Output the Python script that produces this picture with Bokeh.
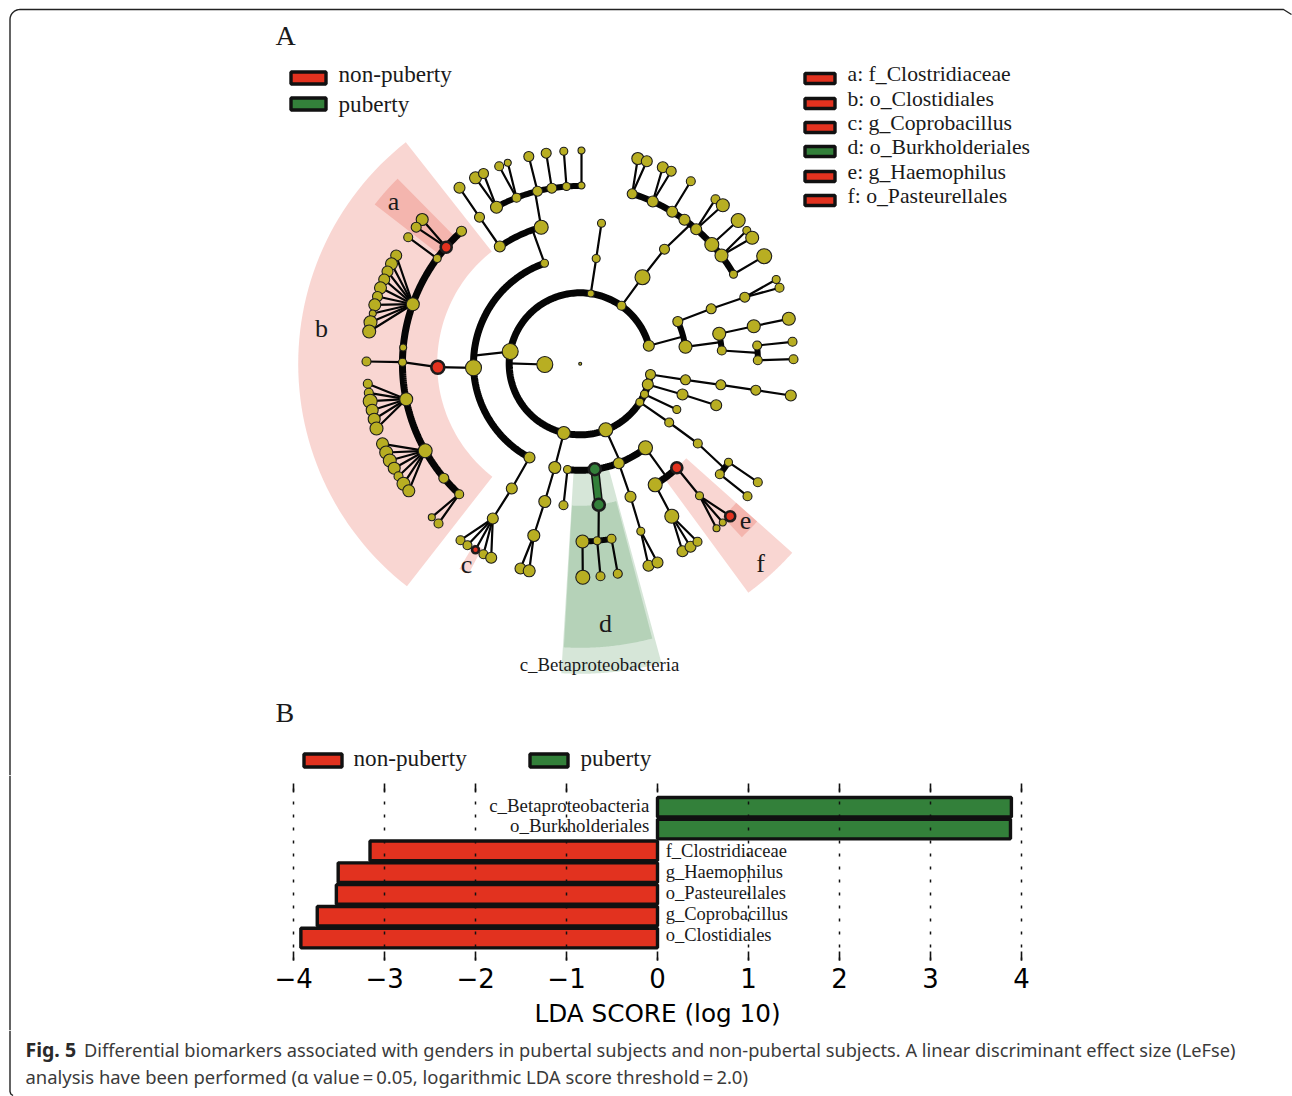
import math
from bokeh.core.properties import value
from bokeh.embed import file_html
from bokeh.layouts import column, row
from bokeh.models import ColumnDataSource, FixedTicker, LinearAxis, Range1d
from bokeh.plotting import figure
from bokeh.resources import INLINE

RED = "#E2321F"
GREEN = "#33803A"
OLIVE = "#B8AE22"
SERIF = "Liberation Serif"
INK = "#1a1a1a"

# ---- Panel B data ----
taxa = ["o_Clostidiales", "g_Coprobacillus", "o_Pasteurellales", "g_Haemophilus",
        "f_Clostridiaceae", "o_Burkholderiales", "c_Betaproteobacteria"]
lda_score = [-3.92, -3.74, -3.53, -3.51, -3.16, 3.88, 3.89]
lda_ticks = [-4, -3, -2, -1, 0, 1, 2, 3, 4]
label_rows = [0.14, 1.1, 2.07, 3.03, 3.99, 5.16, 6.08]

# ---- Panel A data: cladogram nodes ----
node_x = [579.7, 544.3, 509.7, 590.3, 621, 648.3, 650, 647.3, 644, 639.3, 605.3, 563.3,
          544, 473, 529, 499.3, 540.7, 437.3, 479, 496, 516, 537, 551.3, 566, 581,
          459, 475, 483, 498.7, 507.3, 528.3, 545.7, 563.3, 581,
          461, 445.7, 436.7, 412.3, 402.7, 402, 405.7, 424.7, 443.3, 458.7,
          421.7, 415.7, 407.7, 366,
          395.7, 391, 387, 383.7, 380, 377, 374.3, 372.3, 370, 368.7,
          367.3, 368.3, 369.7, 371.7, 373.7, 376,
          382, 385.7, 389.3, 393.7, 398, 403, 408.3, 431.3, 438,
          511.3, 492.3, 460, 467, 475, 483, 490.7, 554.3, 544.3, 533.3, 520, 528.7,
          595.7, 601, 642, 664, 631.7, 652.3, 671.7, 684, 695.7, 711.3, 721, 733,
          637.3, 646.3, 662.3, 670.7, 690.3, 715, 722.3, 737.7, 746.3, 751.7, 763.7,
          677.3, 685, 710.7, 744.3, 775.7, 779, 718.7, 721.3, 753.3, 788.3, 756.7, 757.3, 792, 793,
          685, 720.3, 755.3, 790.3, 682, 715.7, 676.3, 668.7, 697.3, 728, 719.3, 757.3, 747,
          567, 594.3, 618.3, 645, 563, 598.3, 582, 596.7, 611, 582.3, 600, 617.3,
          630, 640.3, 648, 657, 676.3, 654.7, 671.3, 682, 690, 697, 699, 716, 722.3, 729.7]
node_y = [363.3, 364, 351, 293, 305.3, 345.3, 374, 384, 393.7, 401.7, 429.3, 432.5,
          262.7, 367.3, 457, 246, 226.7, 366.7, 216.7, 206.7, 197.3, 190.7, 187.7, 186, 185,
          187.3, 177.3, 173, 165.7, 162.3, 156, 152.7, 150.7, 150,
          230.7, 246.7, 258, 303.7, 347, 361.7, 398.7, 450.3, 477.7, 493.7,
          219, 226.7, 236.7, 361,
          255, 263.3, 271, 279, 287.3, 296, 304.3, 313, 321.7, 331,
          383.3, 392.3, 400.7, 409.7, 418.7, 428,
          443.3, 452, 460, 467.7, 475.7, 483.3, 490.3, 516.7, 523,
          488, 518, 539.7, 544.7, 549.3, 553.7, 557.3, 467, 501, 535, 568, 570.3,
          258, 222.7, 276.7, 248.7, 193.3, 201, 211.3, 219.3, 228.7, 244, 255, 273.7,
          158, 160.7, 166.7, 170.7, 180.7, 198.7, 204.7, 220, 230, 237.3, 255.7,
          321, 346.3, 308.3, 296.7, 279, 287.3, 333.3, 350, 325.7, 318.3, 345, 359.7, 341.3, 358.7,
          379.3, 384.3, 389.7, 395, 394, 404.7, 409, 422, 443, 461.7, 473.7, 481.7, 495.7,
          469, 468.7, 462.7, 447.3, 504.7, 504.3, 541, 540.3, 538.3, 576.7, 575.7, 573.3,
          496.3, 530.7, 565.3, 562, 467.3, 484.3, 515.7, 550.7, 546.3, 541.3, 495.3, 527.7, 522, 515.7]
node_size = [1.5, 8, 8, 3.5, 4.5, 5.5, 5, 5.5, 4, 4, 7, 6.5,
             4, 8, 5.5, 5.5, 7, 6.5, 5, 6, 4.5, 5, 5, 4, 3.5,
             5.5, 6, 5, 4.5, 3.5, 5, 5, 4, 3.5,
             5, 5.5, 4, 6.5, 3.5, 4, 6.5, 7, 5, 4.5,
             6, 5, 4.5, 4.5,
             5.5, 6, 5.5, 5.5, 6, 5, 6, 3.5, 6.5, 6.5,
             4.5, 4.5, 7, 6, 6, 6.5,
             6, 6.5, 6.5, 6, 4.5, 6.5, 6, 3.5, 4.5,
             5.5, 5.5, 4.5, 4.5, 3.5, 4.5, 5.5, 6, 6, 6, 5.5, 6,
             4, 4, 7.5, 5, 5, 5.5, 5.5, 5.5, 5.5, 7, 6.5, 4,
             6, 5.5, 5.5, 5, 4.5, 4.5, 6.5, 7, 4, 6.5, 7.5,
             5, 6.5, 5, 5, 4, 4.5, 6.5, 4.5, 6.5, 6.5, 4.5, 4.5, 4.5, 4.5,
             5, 5, 5, 5.5, 5.5, 5.5, 4, 4.5, 4.5, 4, 4.5, 4.5, 4.5,
             4, 6, 5.5, 7, 4.5, 6, 6.5, 4, 4.5, 7, 4.5, 4.5,
             5.5, 4, 5.5, 5.5, 5.5, 7, 7, 5.5, 5.5, 4.5, 4, 3.5, 3.5, 5]
red_nodes = [17, 35, 77, 151, 160]
green_nodes = [136, 140]

# direct branches (parent, child)
branch_from = [19, 19, 20, 20, 21, 22, 23, 24, 15, 18, 35, 35, 36,
               37, 37, 37, 37, 37, 37, 37, 37, 37, 37, 39,
               40, 40, 40, 40, 40, 40, 41, 41, 41, 41, 41, 41, 41, 43, 43,
               14, 73, 74, 74, 74, 74, 74, 11, 80, 81, 82, 82,
               3, 85, 4, 87, 89, 89, 90, 90, 91, 93, 93, 94, 95, 95, 96,
               108, 110, 111, 111, 114, 116, 118, 119,
               6, 122, 123, 124, 7, 126, 8, 9, 129, 131, 132, 135,
               141, 142, 143, 137, 147, 148, 148, 152, 153, 153, 153,
               151, 157, 157, 157, 13]
branch_to = [26, 27, 28, 29, 30, 31, 32, 33, 18, 25, 44, 45, 46,
             48, 49, 50, 51, 52, 53, 54, 55, 56, 57, 47,
             58, 59, 60, 61, 62, 63, 64, 65, 66, 67, 68, 69, 70, 71, 72,
             73, 74, 75, 76, 77, 78, 79, 80, 81, 82, 83, 84,
             85, 86, 87, 88, 97, 98, 99, 100, 101, 102, 103, 104, 105, 106, 107,
             110, 111, 112, 113, 116, 117, 120, 121,
             122, 123, 124, 125, 126, 127, 128, 129, 130, 133, 134, 139,
             144, 145, 146, 147, 148, 149, 150, 153, 154, 155, 156,
             157, 158, 159, 160, 17]

# sibling arcs: parent, members in ring order, where the stem joins, thickness
arc_parent = [1, 2, 12, 16, 17, 88, 5, 109, 115, 130, 10, 140, 138]
arc_members = [[5, 4, 3, 2, 11, 10, 9, 8, 7, 6], [12, 13, 14], [15, 16],
               [19, 20, 21, 22, 23, 24], [34, 35, 36, 37, 38, 39, 40, 41, 42, 43],
               [89, 90, 91, 92, 93, 94, 95, 96], [108, 109], [114, 115], [118, 119],
               [131, 132], [135, 136, 137, 138], [141, 142, 143], [151, 152]]
arc_stem = [0.49, 0.5, 0.8, 0.47, 0.5, 0.5, 0.6, 0.5, 0.5, 0.5, 0.65, 0.55, 0.5]
arc_width = [7, 7, 6.5, 6, 7, 6.5, 6, 6, 6, 6, 7, 6, 7]

# highlighted clades: inner radius, outer radius, start and end angle (deg)
clade_r0 = [143, 177, 209, 106, 142, 209, 142]
clade_r1 = [282, 260, 238, 310, 284, 237, 284]
clade_a0 = [128.2, 134.6, 239.5, 266.5, 266.7, 313, 306.3]
clade_a1 = [232.1, 142.2, 242, 285.2, 284.7, 318.3, 318.3]
clade_group = [RED, RED, RED, GREEN, GREEN, RED, RED]

clade_letters = ["a", "b", "c", "d", "e", "f"]
clade_names = ["f_Clostridiaceae", "o_Clostidiales", "g_Coprobacillus",
               "o_Burkholderiales", "g_Haemophilus", "o_Pasteurellales"]
clade_colors = [RED, RED, RED, GREEN, RED, RED]
group_names = ["non-puberty", "puberty"]
group_colors = [RED, GREEN]

CX, CY = node_x[0], node_y[0]
W, H = 1292, 1096
TOP_H, BAR_H, CAP_H = 775, 255, 66
STRIP_W = 20
FRAME_X = 9.5


def polar(i):
    dx, dy = node_x[i] - CX, node_y[i] - CY
    return math.hypot(dx, dy), math.atan2(dy, dx)


def unwrap(members):
    out = [polar(members[0])[1]]
    for m in members[1:]:
        a = polar(m)[1]
        out.append(out[-1] + ((a - out[-1] + math.pi) % (2 * math.pi) - math.pi))
    return out


def blank(width, height, xr, yr):
    f = figure(width=width, height=height, x_range=Range1d(*xr), y_range=Range1d(*yr),
               output_backend="svg", toolbar_location=None, min_border=0, frame_align=False,
               outline_line_color=None, x_axis_location=None, y_axis_location=None)
    f.grid.visible = False
    return f


def serif_text(fig, x, y, txt, size, align="left"):
    fig.text([x], [y], text=[txt], text_font=value(SERIF), text_font_size=size, text_color=INK,
             text_align=align, text_baseline="middle")


# ---- Panel A ----
top = blank(W, TOP_H, (0, W), (TOP_H, 0))

# frame of the journal figure
R_C = 10
corner = [(FRAME_X + R_C - R_C * math.cos(t / 10 * math.pi / 2), 9 + R_C - R_C * math.sin(t / 10 * math.pi / 2))
          for t in range(11)]
fx = [FRAME_X] + [c[0] for c in corner] + [1283, 1291]
fy = [TOP_H] + [c[1] for c in corner] + [9, 14]
top.line(fx, fy, line_color="#222222", line_width=1.4)

xs, ys = [], []
for r0, r1, a0, a1 in zip(clade_r0, clade_r1, clade_a0, clade_a1):
    angs = [math.radians(a0 + (a1 - a0) * k / 60) for k in range(61)]
    xs.append([CX + r1 * math.cos(a) for a in angs] + [CX + r0 * math.cos(a) for a in reversed(angs)])
    ys.append([CY - r1 * math.sin(a) for a in angs] + [CY - r0 * math.sin(a) for a in reversed(angs)])
top.patches(xs, ys, fill_color=clade_group, fill_alpha=0.2, line_color=None)

lx, ly, lw = [], [], []
for f, t in zip(branch_from, branch_to):
    lx.append([node_x[f], node_x[t]])
    ly.append([node_y[f], node_y[t]])
    lw.append(2.2)
for parent, members, stem, width in zip(arc_parent, arc_members, arc_stem, arc_width):
    angs = unwrap(members)
    R = sum(polar(m)[0] for m in members) / len(members)
    n = max(2, int(abs(angs[-1] - angs[0]) * R / 2))
    pts = [angs[0] + (angs[-1] - angs[0]) * k / n for k in range(n + 1)]
    lx.append([CX + R * math.cos(a) for a in pts])
    ly.append([CY + R * math.sin(a) for a in pts])
    lw.append(width)
    am = angs[0] + (angs[-1] - angs[0]) * stem
    lx.append([node_x[parent], CX + R * math.cos(am)])
    ly.append([node_y[parent], CY + R * math.sin(am)])
    lw.append(2.2)
top.multi_line(lx, ly, line_color="#050505", line_width=lw, line_cap="round")

# the green branch between the two green nodes
gx = [node_x[green_nodes[0]], node_x[green_nodes[1]]]
gy = [node_y[green_nodes[0]], node_y[green_nodes[1]]]
top.line(gx, gy, line_color="#111111", line_width=9)
top.line(gx, gy, line_color=GREEN, line_width=6)

fills, edges = [], []
for i in range(len(node_x)):
    fills.append(RED if i in red_nodes else GREEN if i in green_nodes else OLIVE)
    edges.append(2.6 if i in red_nodes or i in green_nodes else 1.1)
top.circle(node_x, node_y, radius=node_size, fill_color=fills, line_color="#1c1c1c", line_width=edges)

serif_text(top, 275, 35, "A", "28px")
serif_text(top, 275, 712, "B", "28px")

# group legend, panel A
for name, col, y, ty in zip(group_names, group_colors, [77.5, 103.5], [73.5, 103.5]):
    top.rect([308], [y], width=[35], height=[12], fill_color=col, line_color="#111111", line_width=3.4)
    serif_text(top, 338, ty, name, "23.2px")

# group legend, panel B
for name, col, x0, xt in zip(group_names, group_colors, [322.5, 548.5], [353, 580]):
    top.rect([x0], [760], width=[38], height=[13], fill_color=col, line_color="#111111", line_width=3.4)
    serif_text(top, xt, 757.5, name, "23.2px")

# clade legend
for letter, name, col, y in zip(clade_letters, clade_names, clade_colors, [73.5, 98.5, 122.5, 146.5, 171.5, 195.5]):
    top.rect([819.5], [y + 4.5], width=[30], height=[10], fill_color=col, line_color="#111111", line_width=3.4)
    serif_text(top, 847, y, f"{letter}: {name}", "21.7px")

# clade letters on the sectors
for letter, x, y in zip(["a", "b", "c", "d", "e", "f"],
                        [393, 321, 466, 605, 745, 760], [201, 328, 564, 623, 520, 563]):
    serif_text(top, x, y, letter, "26px", "center")
serif_text(top, 599, 663.5, "c_Betaproteobacteria", "18.8px", "center")

# ---- left strip carrying the journal frame past the bar chart ----
strip = blank(STRIP_W, BAR_H, (0, STRIP_W), (TOP_H + BAR_H, TOP_H))
strip.line([FRAME_X, FRAME_X], [TOP_H, TOP_H + BAR_H], line_color="#222222", line_width=1.4)

# ---- Panel B ----
bars = figure(width=W - STRIP_W, height=BAR_H, x_range=Range1d(-4.1, 4.1), y_range=Range1d(-1.03, 7.09),
              output_backend="svg", toolbar_location=None, frame_align=False,
              min_border_left=264, min_border_right=262, min_border_top=8, min_border_bottom=70,
              outline_line_color=None, y_axis_location=None, x_axis_location=None)

neg = [i for i, v in enumerate(lda_score) if v < 0]
pos = [i for i, v in enumerate(lda_score) if v > 0]
bars.hbar(y=neg, left=[lda_score[i] for i in neg], right=0, height=0.9, fill_color=RED,
          line_color="#111111", line_width=3.4)
bars.hbar(y=pos, left=0, right=[lda_score[i] for i in pos], height=0.9, fill_color=GREEN,
          line_color="#111111", line_width=3.4)

src_neg = ColumnDataSource(dict(x=[0.09] * len(neg), y=[label_rows[i] for i in neg], t=[taxa[i] for i in neg]))
src_pos = ColumnDataSource(dict(x=[-0.09] * len(pos), y=[label_rows[i] for i in pos], t=[taxa[i] for i in pos]))
bars.text("x", "y", text="t", source=src_neg, text_font=value(SERIF), text_font_size="18.5px", text_color=INK,
          text_align="left", text_baseline="middle", level="overlay")
bars.text("x", "y", text="t", source=src_pos, text_font=value(SERIF), text_font_size="18.85px", text_color=INK,
          text_align="right", text_baseline="middle", level="overlay")

labels = {t: str(t).replace("-", "\u2212") for t in lda_ticks}
ax = LinearAxis(ticker=FixedTicker(ticks=lda_ticks), major_label_overrides=labels,
                axis_label="LDA SCORE (log 10)", axis_label_text_font="DejaVu Sans",
                axis_label_text_font_size="24.7px", axis_label_text_font_style="normal",
                axis_label_text_color="#000000", axis_label_standoff=8,
                major_label_text_font="DejaVu Sans", major_label_text_font_size="26px",
                major_label_text_color="#000000", major_label_standoff=7,
                major_tick_in=9, major_tick_out=0, minor_tick_line_color=None, axis_line_color=None,
                major_tick_line_color="#111111", major_tick_line_width=1.6)
bars.add_layout(ax, "below")
ax_top = LinearAxis(ticker=FixedTicker(ticks=lda_ticks), major_label_text_color=None,
                    major_label_text_font_size="0px", major_label_standoff=0, major_tick_in=9, major_tick_out=0,
                    minor_tick_line_color=None, axis_line_color=None,
                    major_tick_line_color="#111111", major_tick_line_width=1.6)
bars.add_layout(ax_top, "above")
bars.xgrid.ticker = FixedTicker(ticks=lda_ticks)
bars.xgrid.grid_line_color = "#111111"
bars.xgrid.grid_line_dash = "3 10"
bars.xgrid.grid_line_width = 1.5
bars.xgrid.level = "overlay"
bars.ygrid.visible = False

# ---- caption ----
cap = blank(W, CAP_H, (0, W), (H, TOP_H + BAR_H))
ck = [(FRAME_X, TOP_H + BAR_H), (FRAME_X, 1091), (10.3, 1093.5), (12.5, 1095)]
cap.line([c[0] for c in ck], [c[1] for c in ck], line_color="#222222", line_width=1.4)
CAPTION_FONT = "Noto Sans"
cap.text([25], [1049], text=["Fig. 5"], text_font=value(CAPTION_FONT), text_font_size="19.5px",
         text_font_style="bold", text_color="#2a2a2a", text_baseline="middle")
cap.text([83.5], [1049],
         text=["Differential biomarkers associated with genders in pubertal subjects and non-pubertal subjects. A linear discriminant effect size (LeFse)"],
         text_font=value(CAPTION_FONT), text_font_size="18.2px", text_color="#3a3a3a", text_baseline="middle")
cap.text([25], [1076],
         text=["analysis have been performed (\u03b1 value\u2009=\u20090.05, logarithmic LDA score threshold\u2009=\u20092.0)"],
         text_font=value(CAPTION_FONT), text_font_size="18.43px", text_color="#3a3a3a", text_baseline="middle")

page = column(top, row(strip, bars, spacing=0), cap, spacing=0)
open("out.html", "w").write(file_html(page, INLINE))
